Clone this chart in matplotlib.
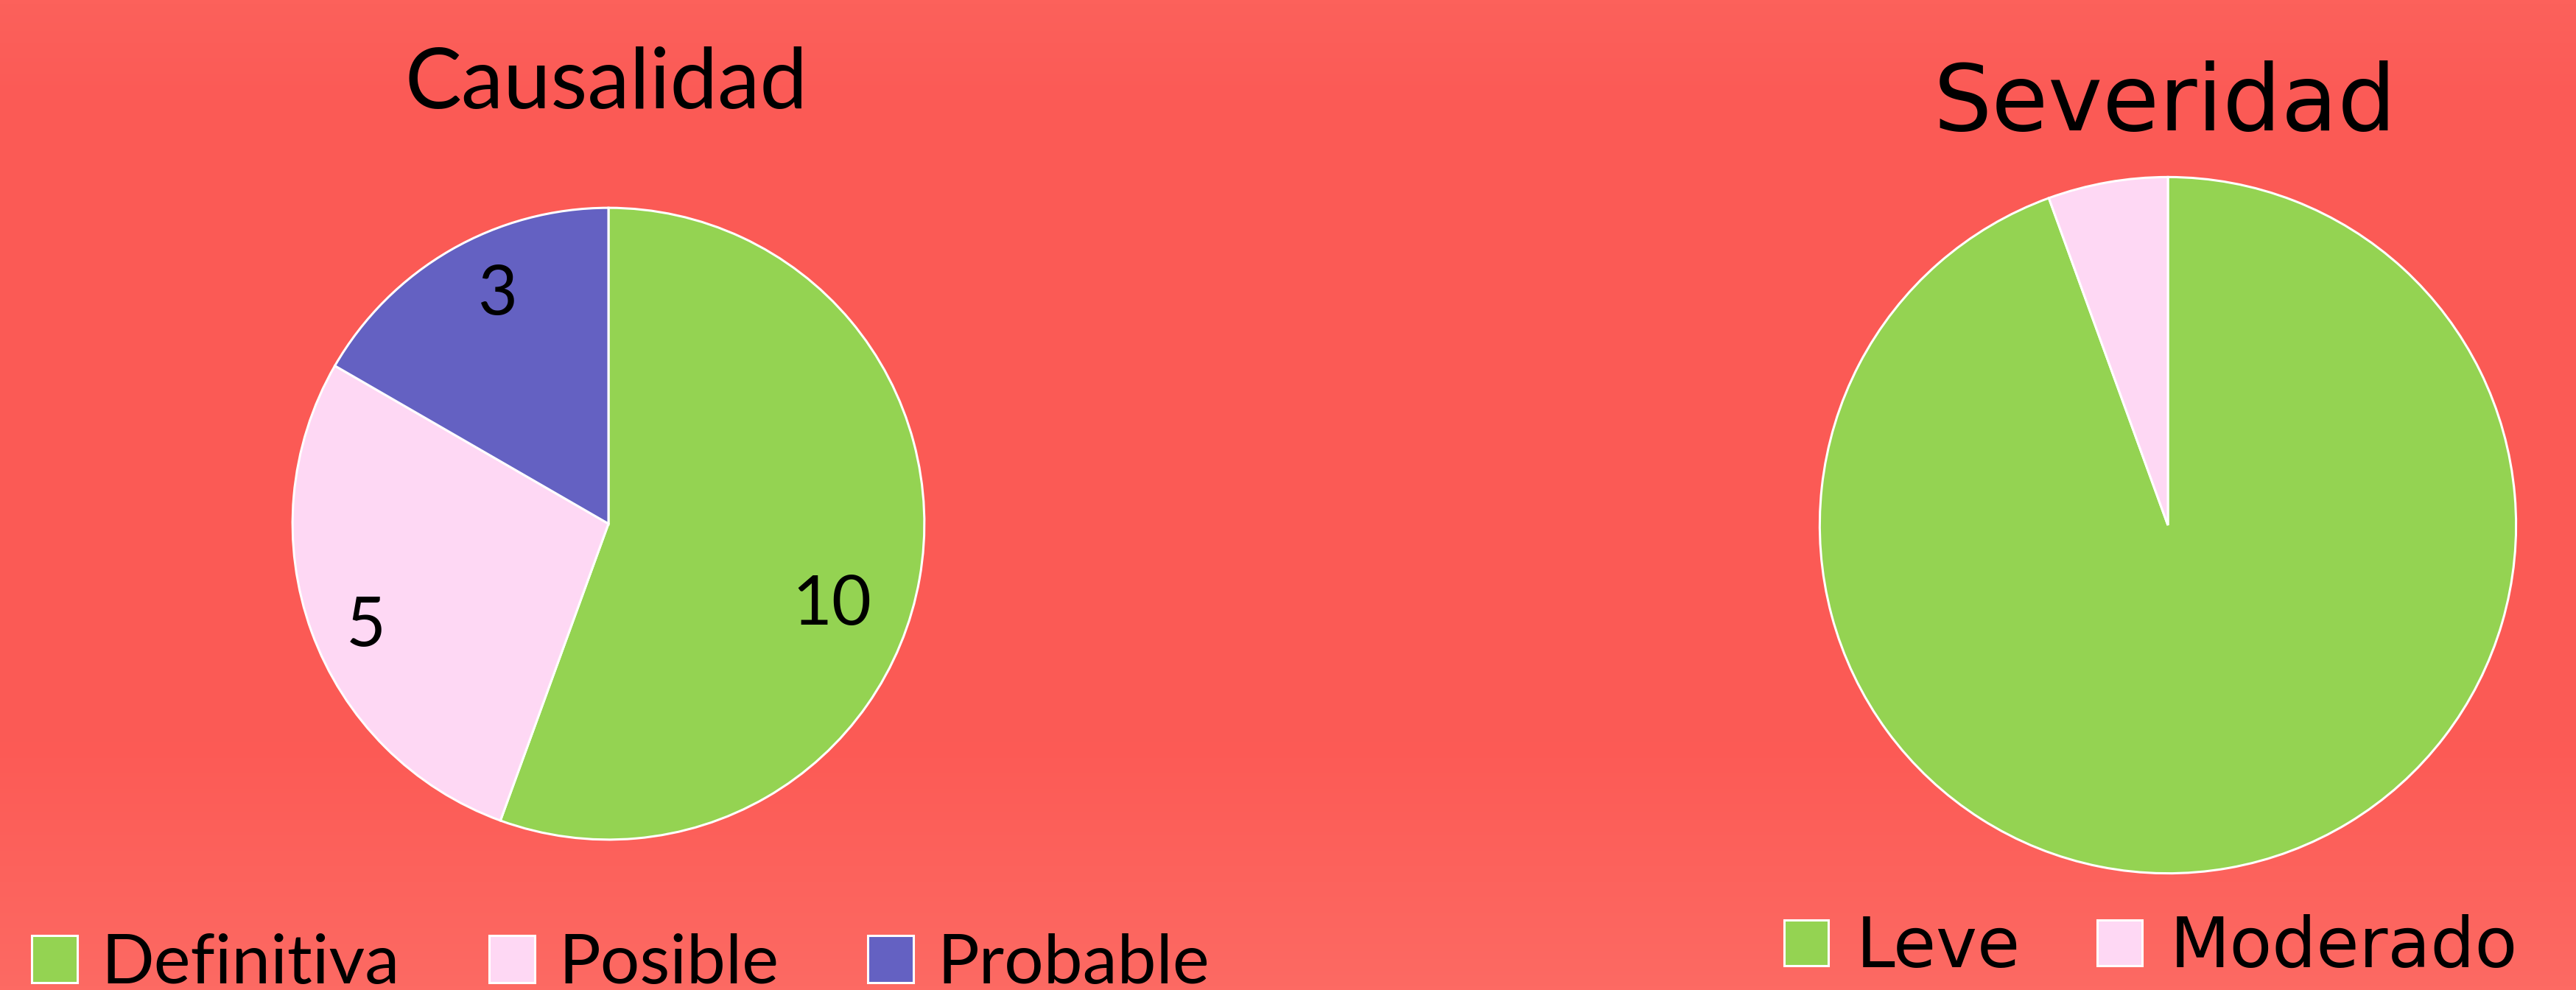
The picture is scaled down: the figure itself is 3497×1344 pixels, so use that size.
import numpy as np
import matplotlib
matplotlib.use("Agg")
import matplotlib.pyplot as plt
from matplotlib.colors import LinearSegmentedColormap

# data
causa_labels = ["Definitiva", "Posible", "Probable"]
causa_values = [10, 5, 3]
causa_colors = ["#94D352", "#FED8F4", "#6461C2"]

sev_labels = ["Leve", "Moderado"]
sev_values = [17, 1]
sev_colors = ["#94D352", "#FED8F4"]

# where excel put the data labels: angle shift from wedge middle, radius
label_place = [(-10, 0.75), (3, 0.83), (-4, 0.80)]

W, H = 3497, 1344
DPI = 100


def pie_axes(fig, cx, cy, r):
	"""axes in figure fractions from a centre and radius in pixels"""
	ax = fig.add_axes([(cx - r) / W, (H - cy - r) / H, 2 * r / W, 2 * r / H])
	ax.axis("off")
	return ax


def fix_limits(ax):
	# pie() sets +-1.25 limits, put the circle edge on the axes edge
	ax.set_xlim(-1, 1)
	ax.set_ylim(-1, 1)
	ax.set_aspect("equal")


def main():
	fig = plt.figure(figsize=(W / DPI, H / DPI), dpi=DPI)

	# red background gradient
	bg = fig.add_axes([0, 0, 1, 1], zorder=-10)
	cmap = LinearSegmentedColormap.from_list("bg", [
		(0.0, "#FC615B"), (0.1, "#FB5A56"), (0.75, "#FC5A55"), (1.0, "#FD6A63")])
	grad = np.linspace(0, 1, 256).reshape(-1, 1)
	bg.imshow(grad, aspect="auto", cmap=cmap, extent=[0, 1, 0, 1], origin="upper")
	bg.axis("off")

	font1 = "Lato"
	font2 = "DejaVu Sans"

	# Causalidad
	ax1 = pie_axes(fig, 826, 711, 431)
	wedges1, _, autotexts = ax1.pie(
		causa_values, colors=causa_colors, startangle=90, counterclock=False,
		radius=0.995, autopct=lambda p: "%d" % round(p * sum(causa_values) / 100),
		pctdistance=0.78, wedgeprops=dict(edgecolor="white", linewidth=2.2),
		textprops=dict(fontsize=67, family=font1, color="black"))
	for w, t, (shift, dist) in zip(wedges1, autotexts, label_place):
		ang = np.deg2rad((w.theta1 + w.theta2) / 2 + shift)
		t.set_position((dist * np.cos(ang), dist * np.sin(ang)))
	fix_limits(ax1)
	fig.text(823 / W, 1 - 147 / H, "Causalidad", ha="center", va="baseline",
			fontsize=83, family=font1, color="black")
	fig.legend(wedges1, causa_labels, loc="center left",
			bbox_to_anchor=(43 / W, 1 - 1309 / H), ncol=3, frameon=False,
			prop=dict(family=font1, size=68), handlelength=0.66, handleheight=0.66,
			handletextpad=0.34, columnspacing=1.28, borderpad=0, borderaxespad=0)

	# Severidad
	ax2 = pie_axes(fig, 2943, 713, 475)
	wedges2, _ = ax2.pie(
		sev_values, colors=sev_colors, startangle=90, counterclock=False,
		radius=0.995, wedgeprops=dict(edgecolor="white", linewidth=2.2))
	fix_limits(ax2)
	fig.text(2939 / W, 1 - 177 / H, "Severidad", ha="center", va="baseline",
			fontsize=90, family=font2, color="black")
	fig.legend(wedges2, sev_labels, loc="center left",
			bbox_to_anchor=(2422 / W, 1 - 1287 / H), ncol=2, frameon=False,
			prop=dict(family=font2, size=68), handlelength=0.64, handleheight=0.64,
			handletextpad=0.4, columnspacing=1.1, borderpad=0, borderaxespad=0)

	fig.savefig("out.png", dpi=DPI)


if __name__ == "__main__":
	main()
